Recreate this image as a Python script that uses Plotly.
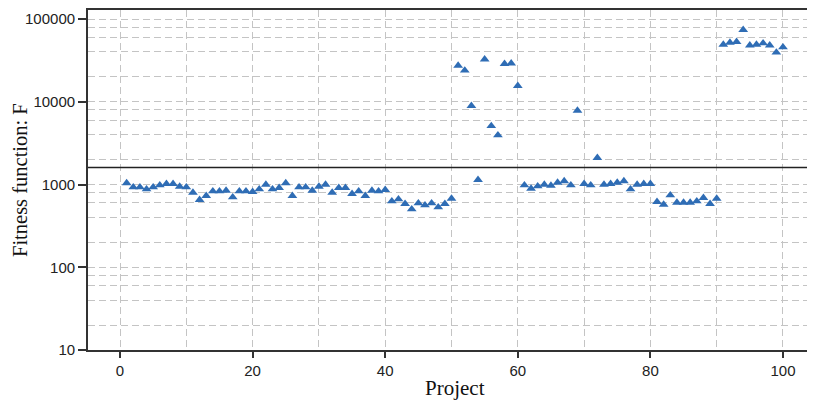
import plotly.graph_objects as go

# ---- data ----
projects = list(range(1, 101))
fitness = [
    1040, 928, 928, 877, 928, 980, 1020, 1020, 946, 928,
    800, 653, 730, 830, 830, 845, 703, 830, 830, 815,
    877, 1000, 877, 912, 1040, 730, 928, 928, 846, 946,
    1000, 800, 912, 912, 772, 830, 730, 845, 830, 863,
    629, 665, 585, 503, 594, 562, 594, 532, 585, 677,
    27400, 23900, 8930, 1140, 32600, 5110, 3950, 28800, 29200, 15600,
    980, 895, 955, 1000, 970, 1057, 1100, 980, 7830, 1020,
    980, 2100, 1000, 1020, 1057, 1100, 877, 1000, 1020, 1020,
    617, 573, 743, 606, 606, 606, 629, 690, 585, 677,
    49200, 52000, 53000, 74000, 48200, 49200, 51000, 48200, 39400, 45600,
]
threshold = 1600

x_tick_vals = [0, 20, 40, 60, 80, 100]
x_tick_text = ["0", "20", "40", "60", "80", "100"]
y_tick_vals = [10, 100, 1000, 10000, 100000]
y_tick_text = ["10", "100", "1000", "10000", "100000"]
y_minor_vals = [m * 10 ** k for k in range(1, 5) for m in (2, 4, 6, 8)]
x_title = "Project"
y_title = "Fitness function: F"

fig = go.Figure()
fig.add_trace(go.Scatter(
    x=projects, y=fitness, mode="markers",
    marker=dict(symbol="triangle-up", size=8.5, color="#2f6db5", line=dict(width=0)),
    showlegend=False,
))
fig.add_hline(y=threshold, line=dict(color="#222222", width=1.5))

grid_col = "#c4c4c4"
dash = "7px,4px"
serif = "Liberation Serif, Times New Roman, serif"
# page body has an 8px margin: figure sized so page fits 815x401 exactly
W, H = 807, 393
ml, mr, mt, mb = 80, 0, 2, 51
pw, ph = W - ml - mr, H - mt - mb

fig.update_layout(
    width=W, height=H,
    margin=dict(l=ml, r=mr, t=mt, b=mb),
    plot_bgcolor="white", paper_bgcolor="white",
    font=dict(family="Liberation Sans, Arial, sans-serif", size=15, color="#222222"),
    xaxis=dict(
        range=[-4.83, 104.83], automargin=False,
        tickmode="array", tickvals=x_tick_vals, ticktext=x_tick_text,
        ticks="outside", ticklen=6, tickwidth=1.5, tickcolor="#333333",
        showline=True, linecolor="#333333", linewidth=1.8, mirror=True,
        showgrid=True, gridcolor=grid_col, griddash=dash, gridwidth=1,
        minor=dict(dtick=10, tick0=0, showgrid=True, gridcolor=grid_col,
                   griddash=dash, gridwidth=1, ticks=""),
        zeroline=False,
    ),
    yaxis=dict(
        type="log", range=[1, 5.109], automargin=False,
        tickmode="array", tickvals=y_tick_vals, ticktext=y_tick_text,
        ticks="outside", ticklen=8, tickwidth=1.5, tickcolor="#333333",
        showline=True, linecolor="#333333", linewidth=1.8, mirror=False,
        showgrid=True, gridcolor=grid_col, griddash=dash, gridwidth=1,
        minor=dict(tickmode="array", tickvals=y_minor_vals, showgrid=True,
                   gridcolor=grid_col, griddash=dash, gridwidth=1, ticks=""),
        zeroline=False,
    ),
    annotations=[
        dict(text=x_title, xref="paper", yref="paper", x=(455 - 88) / pw, y=-(388 - 350) / ph,
             xanchor="center", yanchor="middle", showarrow=False,
             font=dict(family=serif, size=21, color="#111111")),
        dict(text=y_title, xref="paper", yref="paper", x=-(88 - 20) / pw, y=0.5,
             xanchor="center", yanchor="middle", textangle=-90, showarrow=False,
             font=dict(family=serif, size=20.5, color="#111111")),
    ],
)

fig.write_html("out.html")
